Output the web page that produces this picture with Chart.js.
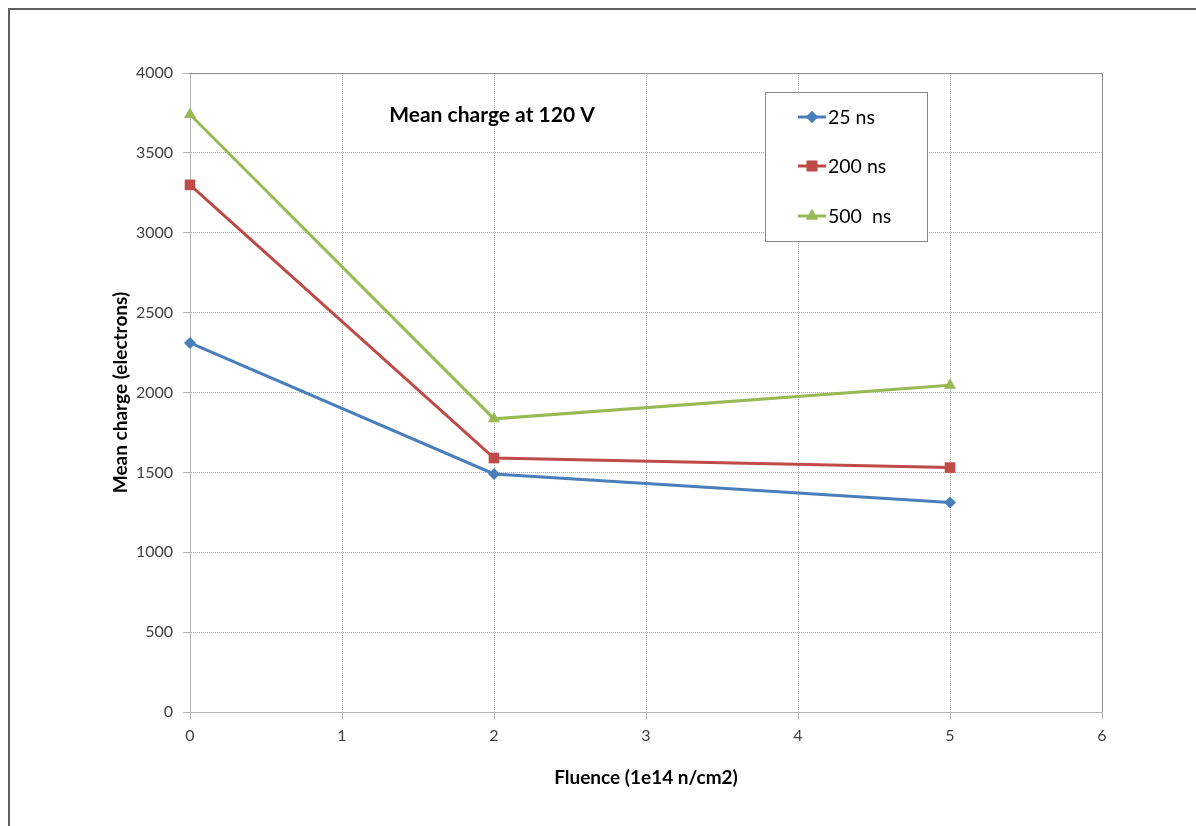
<!DOCTYPE html>
<html>
<head>
<meta charset="utf-8">
<script src="https://cdn.jsdelivr.net/npm/chart.js@4/dist/chart.umd.min.js"></script>
<style>
  html, body { margin: 0; padding: 0; background: #ffffff; }
  #wrap { width: 1196px; height: 826px; position: relative; }
</style>
</head>
<body>
<div id="wrap"><canvas id="c" width="1196" height="826"></canvas></div>
<script>
// ---- data ----
const fluence = [0, 2, 5];
const charge25 = [2310, 1490, 1312];
const charge200 = [3300, 1590, 1530];
const charge500 = [3740, 1835, 2045];
const seriesLabels = ['25 ns', '200 ns', '500  ns'];
const chartTitle = 'Mean charge at 120 V';
const xTitle = 'Fluence (1e14 n/cm2)';
const yTitle = 'Mean charge (electrons)';

const FONT = 'Lato, "Open Sans", sans-serif';
const colors = ['#4A7EBB', '#BE4B48', '#98B954'];
const shapes = ['rectRot', 'rect', 'triangle'];
const radii = [6, 7.5, 7];

function pts(vals) { return fluence.map((x, i) => ({ x: x, y: vals[i] })); }

const datasets = [charge25, charge200, charge500].map((vals, i) => ({
  label: seriesLabels[i],
  data: pts(vals),
  borderColor: colors[i],
  backgroundColor: colors[i],
  borderWidth: 3,
  pointStyle: shapes[i],
  pointRadius: radii[i],
  pointBorderWidth: 0,
  pointHoverRadius: radii[i],
  tension: 0,
  clip: false
}));

const decor = {
  id: 'decor',
  beforeDraw(chart) {
    const ctx = chart.ctx;
    ctx.save();
    ctx.fillStyle = '#ffffff';
    ctx.fillRect(0, 0, chart.width, chart.height);
    ctx.strokeStyle = '#5f5f5f';
    ctx.lineWidth = 2;
    ctx.beginPath();
    ctx.moveTo(9, 827);
    ctx.lineTo(9, 9);
    ctx.lineTo(1200, 9);
    ctx.stroke();
    ctx.restore();
  },
  beforeDatasetsDraw(chart) {
    const ctx = chart.ctx;
    const a = chart.chartArea;
    ctx.save();
    ctx.strokeStyle = '#8c8c8c';
    ctx.lineWidth = 1;
    ctx.beginPath();
    ctx.moveTo(a.left, a.top + 0.5);
    ctx.lineTo(a.right + 0.5, a.top + 0.5);
    ctx.lineTo(a.right + 0.5, a.bottom);
    ctx.stroke();
    ctx.restore();
  },
  afterDraw(chart) {
    const ctx = chart.ctx;
    ctx.save();
    ctx.fillStyle = '#000000';
    ctx.font = 'bold 21px ' + FONT;
    ctx.textAlign = 'center';
    ctx.textBaseline = 'middle';
    ctx.fillText(chartTitle, 492, 115);
    const bx = 765.5, by = 92.5, bw = 162, bh = 149;
    ctx.fillStyle = '#ffffff';
    ctx.fillRect(bx, by, bw, bh);
    ctx.strokeStyle = '#888888';
    ctx.lineWidth = 1;
    ctx.strokeRect(bx, by, bw, bh);
    const rows = [117, 166, 216];
    chart.data.datasets.forEach((ds, i) => {
      const y = rows[i];
      ctx.strokeStyle = ds.borderColor;
      ctx.lineWidth = 3;
      ctx.beginPath();
      ctx.moveTo(798, y);
      ctx.lineTo(826, y);
      ctx.stroke();
      ctx.fillStyle = ds.backgroundColor;
      Chart.helpers.drawPoint(ctx, { pointStyle: ds.pointStyle, radius: ds.pointRadius, borderWidth: 0 }, 812, y);
      ctx.fill();
      ctx.fillStyle = '#000000';
      ctx.font = '19.5px ' + FONT;
      ctx.textAlign = 'left';
      ctx.textBaseline = 'middle';
      ctx.fillText(ds.label, 828, y + 1);
    });
    ctx.restore();
  }
};

new Chart(document.getElementById('c'), {
  type: 'line',
  data: { datasets: datasets },
  options: {
    responsive: false,
    animation: false,
    devicePixelRatio: 1,
    layout: { padding: { left: 105, right: 94, top: 73, bottom: 34 } },
    plugins: {
      legend: { display: false },
      title: { display: false },
      tooltip: { enabled: false }
    },
    scales: {
      x: {
        type: 'linear',
        min: 0, max: 6,
        ticks: { stepSize: 1, color: '#404040', font: { family: FONT, size: 16 }, padding: 7,
                 callback: (v) => String(v) },
        grid: { color: '#b4b4b4', tickLength: 7, tickColor: '#b4b4b4', drawOnChartArea: true },
        border: { display: true, color: '#b4b4b4', width: 1, dash: [1, 1] },
        title: { display: true, text: xTitle, color: '#000000', font: { family: FONT, size: 19, weight: 'bold' }, padding: { top: 3, bottom: 3 } },
        afterFit(scale) { scale.height = 80; }
      },
      y: {
        type: 'linear',
        min: 0, max: 4000,
        ticks: { stepSize: 500, color: '#404040', font: { family: FONT, size: 16 }, padding: 10,
                 callback: (v) => String(v) },
        grid: { color: '#b4b4b4', tickLength: 7, tickColor: '#b4b4b4' },
        border: { display: true, color: '#b4b4b4', width: 1, dash: [1, 1] },
        title: { display: true, text: yTitle, color: '#000000', font: { family: FONT, size: 19, weight: 'bold' }, padding: { top: 4, bottom: 0 } },
        afterFit(scale) { scale.width = 85; }
      }
    }
  },
  plugins: [decor]
});
</script>
</body>
</html>
